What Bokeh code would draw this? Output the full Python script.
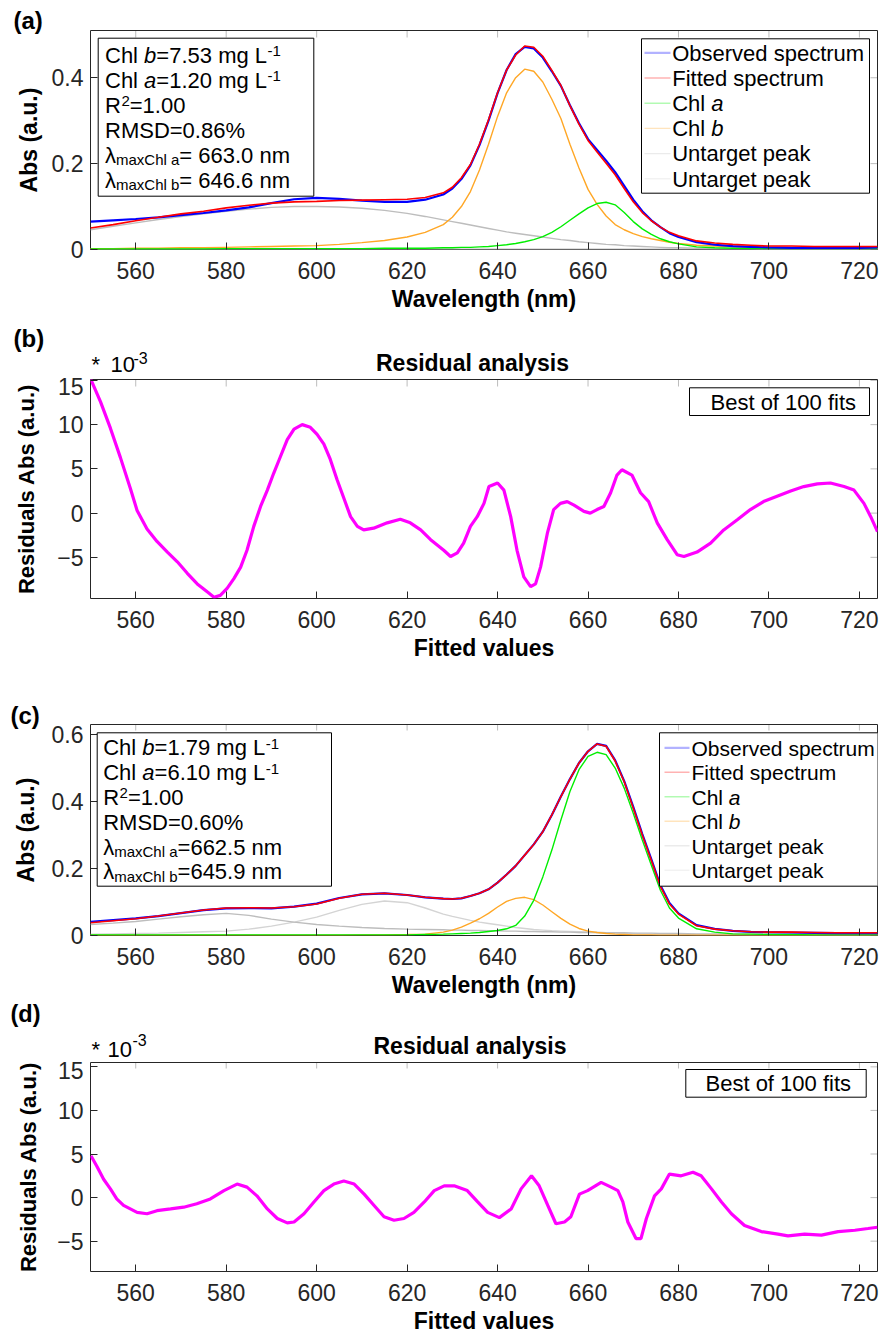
from bokeh.plotting import figure
from bokeh.models import Range1d, FixedTicker, Label, BoxAnnotation, PolyAnnotation
from bokeh.layouts import column
from bokeh.embed import file_html
from bokeh.resources import INLINE

FONT = "Liberation Sans"
AXC = "#262626"

# ---------------- data ----------------
wavelength = [550, 555, 560, 565, 570, 575, 580, 585, 590, 595, 600, 605, 610, 615, 620,
              624, 628,
              630, 632, 634, 636, 638, 640, 642, 644, 646, 648, 650, 652, 654, 656, 658, 660,
              662, 664, 666, 668, 670, 672, 674, 676, 678, 680,
              684, 688, 692, 696, 700,
              705, 710, 715, 720, 724]

# panel (a)
a_observed = [0.065, 0.068, 0.071, 0.075, 0.080, 0.085, 0.091, 0.098, 0.108, 0.117, 0.120, 0.118, 0.114, 0.111, 0.111,
              0.116, 0.128,
              0.142, 0.164, 0.196, 0.243, 0.300, 0.364, 0.418, 0.455, 0.472, 0.468, 0.447, 0.415, 0.381, 0.336, 0.294, 0.257,
              0.232, 0.207, 0.180, 0.148, 0.116, 0.089, 0.068, 0.052, 0.038, 0.029,
              0.017, 0.011, 0.008, 0.006, 0.005,
              0.004, 0.004, 0.004, 0.004, 0.005]
a_fitted = [0.050, 0.058, 0.067, 0.075, 0.083, 0.089, 0.097, 0.103, 0.108, 0.111, 0.112, 0.114, 0.115, 0.116, 0.117,
            0.121, 0.132,
            0.145, 0.167, 0.198, 0.245, 0.302, 0.365, 0.418, 0.453, 0.474, 0.471, 0.450, 0.417, 0.382, 0.335, 0.292, 0.254,
            0.227, 0.201, 0.174, 0.142, 0.111, 0.086, 0.067, 0.052, 0.040, 0.032,
            0.020, 0.015, 0.012, 0.010, 0.008,
            0.008, 0.007, 0.007, 0.007, 0.007]
a_chl_a = [0.001, 0.001, 0.001, 0.001, 0.001, 0.001, 0.002, 0.002, 0.002, 0.002, 0.002, 0.002, 0.002, 0.003, 0.003,
           0.003, 0.004,
           0.004, 0.005, 0.005, 0.006, 0.007, 0.009, 0.011, 0.014, 0.018, 0.023, 0.030, 0.040, 0.053, 0.068, 0.083, 0.097,
           0.107, 0.110, 0.104, 0.086, 0.065, 0.048, 0.035, 0.025, 0.018, 0.013,
           0.006, 0.004, 0.003, 0.002, 0.002,
           0.002, 0.002, 0.002, 0.002, 0.002]
a_chl_b = [0.002, 0.002, 0.003, 0.003, 0.004, 0.004, 0.005, 0.006, 0.007, 0.008, 0.009, 0.012, 0.016, 0.021, 0.029,
           0.040, 0.058,
           0.075, 0.100, 0.135, 0.185, 0.245, 0.310, 0.365, 0.400, 0.420, 0.415, 0.390, 0.350, 0.305, 0.245, 0.190, 0.140,
           0.105, 0.078, 0.058, 0.046, 0.037, 0.030, 0.025, 0.021, 0.017, 0.014,
           0.010, 0.008, 0.006, 0.005, 0.004,
           0.004, 0.003, 0.003, 0.003, 0.003]
a_untarget1 = [0.046, 0.054, 0.062, 0.070, 0.077, 0.083, 0.089, 0.094, 0.098, 0.100, 0.100, 0.099, 0.096, 0.091, 0.084,
               0.077, 0.069,
               0.065, 0.061, 0.057, 0.053, 0.049, 0.045, 0.041, 0.038, 0.035, 0.032, 0.029, 0.026, 0.023, 0.021, 0.018, 0.016,
               0.014, 0.012, 0.011, 0.009, 0.008, 0.007, 0.006, 0.005, 0.004, 0.004,
               0.003, 0.002, 0.002, 0.002, 0.001,
               0.001, 0.001, 0.001, 0.001, 0.001]
a_untarget2 = [0.001, 0.001, 0.001, 0.001, 0.001, 0.001, 0.001, 0.001, 0.001, 0.001, 0.001, 0.001, 0.001, 0.001, 0.001,
               0.001, 0.001,
               0.001, 0.001, 0.001, 0.001, 0.001, 0.001, 0.001, 0.001, 0.001, 0.001, 0.001, 0.001, 0.001, 0.001, 0.001, 0.001,
               0.001, 0.001, 0.001, 0.001, 0.001, 0.001, 0.001, 0.001, 0.001, 0.001,
               0.001, 0.001, 0.001, 0.001, 0.001,
               0.001, 0.001, 0.001, 0.001, 0.001]

# panel (c)
c_observed = [0.041, 0.046, 0.051, 0.058, 0.067, 0.076, 0.081, 0.082, 0.081, 0.086, 0.095, 0.112, 0.123, 0.126, 0.121,
              0.114, 0.110,
              0.109, 0.111, 0.118, 0.126, 0.138, 0.158, 0.182, 0.208, 0.240, 0.272, 0.310, 0.360, 0.415, 0.467, 0.515, 0.550,
              0.572, 0.566, 0.523, 0.461, 0.384, 0.303, 0.227, 0.150, 0.097, 0.066,
              0.031, 0.020, 0.014, 0.011, 0.010,
              0.009, 0.008, 0.007, 0.007, 0.007]
c_fitted = [0.038, 0.044, 0.050, 0.058, 0.067, 0.076, 0.082, 0.083, 0.082, 0.086, 0.094, 0.111, 0.123, 0.126, 0.121,
            0.114, 0.110,
            0.109, 0.111, 0.118, 0.126, 0.138, 0.158, 0.182, 0.208, 0.240, 0.272, 0.310, 0.360, 0.415, 0.467, 0.515, 0.550,
            0.572, 0.565, 0.521, 0.459, 0.381, 0.300, 0.224, 0.147, 0.094, 0.064,
            0.029, 0.019, 0.014, 0.011, 0.010,
            0.010, 0.009, 0.008, 0.008, 0.008]
c_chl_a = [0.002, 0.002, 0.002, 0.002, 0.002, 0.002, 0.002, 0.002, 0.002, 0.002, 0.002, 0.002, 0.002, 0.002, 0.002,
           0.003, 0.004,
           0.005, 0.006, 0.007, 0.009, 0.012, 0.015, 0.020, 0.030, 0.058, 0.105, 0.175, 0.255, 0.345, 0.430, 0.495, 0.535,
           0.547, 0.540, 0.500, 0.440, 0.365, 0.285, 0.210, 0.135, 0.082, 0.052,
           0.020, 0.010, 0.005, 0.004, 0.003,
           0.003, 0.002, 0.002, 0.002, 0.002]
c_chl_b = [0.001, 0.001, 0.001, 0.001, 0.001, 0.001, 0.001, 0.001, 0.001, 0.001, 0.001, 0.001, 0.002, 0.002, 0.003,
           0.004, 0.010,
           0.016, 0.025, 0.037, 0.050, 0.066, 0.085, 0.102, 0.111, 0.114, 0.107, 0.091, 0.071, 0.051, 0.034, 0.021, 0.013,
           0.009, 0.006, 0.004, 0.003, 0.002, 0.002, 0.002, 0.001, 0.001, 0.001,
           0.001, 0.001, 0.001, 0.001, 0.001,
           0.001, 0.001, 0.001, 0.001, 0.001]
c_untarget1 = [0.033, 0.037, 0.042, 0.049, 0.056, 0.062, 0.066, 0.060, 0.049, 0.040, 0.033, 0.028, 0.024, 0.021, 0.019,
               0.018, 0.017,
               0.016, 0.016, 0.015, 0.015, 0.014, 0.014, 0.013, 0.013, 0.012, 0.012, 0.011, 0.011, 0.010, 0.010, 0.009, 0.009,
               0.009, 0.008, 0.008, 0.008, 0.007, 0.007, 0.007, 0.006, 0.006, 0.006,
               0.005, 0.005, 0.005, 0.004, 0.004,
               0.004, 0.004, 0.003, 0.003, 0.003]
c_untarget2 = [0.004, 0.005, 0.006, 0.007, 0.009, 0.011, 0.013, 0.019, 0.028, 0.040, 0.055, 0.075, 0.093, 0.103, 0.098,
               0.082, 0.064,
               0.057, 0.051, 0.045, 0.040, 0.036, 0.032, 0.028, 0.024, 0.021, 0.018, 0.016, 0.014, 0.013, 0.012, 0.011, 0.010,
               0.009, 0.008, 0.007, 0.006, 0.006, 0.005, 0.005, 0.004, 0.004, 0.004,
               0.003, 0.003, 0.003, 0.002, 0.002,
               0.002, 0.002, 0.002, 0.002, 0.002]

# residuals (x 10^-3), panel (b)
res_b_points = [
    (550.0, 15.2), (552.2, 12.6), (554.4, 9.6), (556.6, 6.3), (558.8, 2.8), (560.3, 0.3), (562.5, -1.8),
    (564.7, -3.2), (567.0, -4.4), (569.2, -5.5), (571.4, -6.8), (573.6, -8.0), (575.8, -8.9), (577.3, -9.5),
    (578.7, -9.3), (580.2, -8.5), (581.7, -7.4), (583.2, -6.1), (584.6, -4.2), (586.1, -1.5), (587.6, 0.75),
    (589.1, 2.6), (590.5, 4.5), (592.0, 6.4), (593.5, 8.3), (595.0, 9.5), (596.8, 10.0), (598.6, 9.7),
    (600.1, 8.9), (601.6, 7.8), (603.0, 6.1), (604.5, 3.8), (606.0, 1.7), (607.5, -0.4), (609.0, -1.5),
    (610.4, -1.9), (612.6, -1.7), (615.6, -1.1), (618.5, -0.7), (620.7, -1.1), (623.0, -1.9), (625.2, -3.0),
    (628.1, -4.2), (629.6, -4.9), (631.1, -4.5), (632.5, -3.4), (634.0, -1.5), (635.5, -0.4), (637.0, 1.1),
    (638.1, 3.0), (640.0, 3.4), (641.4, 2.6), (642.9, -0.4), (644.3, -4.2), (645.8, -7.2), (647.3, -8.3),
    (648.4, -8.0), (649.5, -6.1), (651.0, -2.3), (652.4, 0.4), (653.9, 1.1), (655.4, 1.3), (656.9, 0.9),
    (659.1, 0.2), (660.5, 0.0), (662.0, 0.4), (663.5, 0.75), (665.0, 2.3), (666.4, 4.3), (667.5, 4.9),
    (669.7, 4.3), (671.6, 2.3), (673.4, 1.3), (675.3, -1.1), (677.5, -3.0), (679.7, -4.7), (681.2, -4.9),
    (684.1, -4.4), (687.1, -3.4), (690.0, -1.9), (693.0, -0.75), (695.9, 0.4), (698.8, 1.3), (701.8, 1.9),
    (704.8, 2.5), (707.7, 3.0), (710.7, 3.3), (713.6, 3.4), (716.6, 3.0), (718.8, 2.6), (721.0, 1.1),
    (722.5, -0.4), (724.0, -2.1)]
# residuals (x 10^-3), panel (d)
res_d_points = [
    (550.1, 4.8), (551.4, 3.6), (552.9, 2.1), (554.4, 1.0), (555.8, -0.15), (557.3, -0.9), (558.8, -1.3),
    (560.3, -1.7), (562.5, -1.85), (564.7, -1.5), (567.7, -1.3), (570.6, -1.1), (573.5, -0.7), (576.5, -0.15),
    (579.5, 0.8), (582.4, 1.55), (584.6, 1.2), (586.8, 0.2), (589.1, -1.3), (591.3, -2.4), (593.5, -2.9),
    (595.0, -2.8), (597.2, -1.85), (599.4, -0.5), (601.6, 0.8), (603.8, 1.55), (606.0, 1.9), (608.3, 1.55),
    (610.5, 0.4), (612.7, -0.9), (614.9, -2.2), (617.1, -2.6), (619.3, -2.4), (621.5, -1.7), (623.8, -0.5),
    (626.0, 0.8), (628.2, 1.35), (630.4, 1.35), (633.3, 0.8), (635.6, -0.5), (637.8, -1.7), (640.4, -2.3),
    (643.0, -1.3), (645.2, 1.0), (647.5, 2.5), (649.2, 1.35), (651.1, -0.9), (652.9, -3.0), (654.8, -2.8),
    (656.2, -2.2), (658.1, 0.4), (659.9, 0.8), (662.9, 1.75), (665.1, 1.2), (666.6, 0.8), (667.7, -0.5),
    (668.8, -2.8), (670.6, -4.7), (671.7, -4.7), (672.9, -2.4), (674.7, 0.2), (676.2, 1.0), (678.0, 2.7),
    (680.6, 2.5), (683.2, 2.9), (685.0, 2.5), (687.3, 1.0), (689.5, -0.5), (691.7, -1.85), (694.6, -3.2),
    (698.3, -3.9), (702.0, -4.2), (704.2, -4.4), (707.9, -4.2), (711.6, -4.3), (715.3, -3.9), (719.0, -3.75),
    (721.9, -3.55), (724.0, -3.4)]
res_b_wl = [w for w, _ in res_b_points]
res_b = [r for _, r in res_b_points]
res_d_wl = [w for w, _ in res_d_points]
res_d = [r for _, r in res_d_points]

x_ticks = [560, 580, 600, 620, 640, 660, 680, 700, 720]
abs_ticks_a = [0, 0.2, 0.4]
abs_ticks_c = [0, 0.2, 0.4, 0.6]
res_ticks = [-5, 0, 5, 10, 15]

series_names = ["Observed spectrum", "Fitted spectrum", "Chl a", "Chl b", "Untarget peak", "Untarget peak"]
series_colors = ["#0000FF", "#FF0000", "#00EE00", "#FFA726", "#BDBDBD", "#D4D4D4"]
series_widths = [2.2, 1.6, 1.4, 1.4, 1.4, 1.4]

# ---------------- helpers ----------------
CW = {' ': 278, '%': 889, '*': 389, '-': 333, '.': 278, '=': 584, 'B': 667, 'C': 722, 'D': 722,
      'F': 611, 'L': 556, 'M': 833, 'O': 778, 'R': 722, 'S': 667, 'U': 722, 'a': 556, 'b': 556,
      'c': 500, 'd': 556, 'e': 556, 'f': 278, 'g': 556, 'h': 556, 'i': 222, 'k': 500, 'l': 222,
      'm': 833, 'n': 556, 'o': 556, 'p': 556, 'r': 333, 's': 500, 't': 278, 'u': 556, 'v': 500,
      'x': 500, '\u03bb': 500}
SHIFT = 0.3465
BOX_W = 787  # width in px of the axes box


def text_w(s, size):
    return sum(CW.get(c, 556) for c in s) * size / 1000.0


def add_text(p, g, txt, gx, gy, size, style="normal", color="black", align="left", side="center",
             xref=None):
    mid = gy - SHIFT * size
    ft = g["top0"] + g["top"]
    fb = ft + g["fh"]
    yv = (ft - mid) if side == "above" else (fb - mid)
    xr = g["left"] if xref is None else xref
    lab = Label(x=gx - xr, y=yv, x_units="screen", y_units="screen", text=txt,
                text_font=FONT, text_font_size=f"{size}px", text_font_style=style,
                text_color=color, text_align=align, text_baseline="alphabetic")
    if side == "center":
        p.add_layout(lab)
    else:
        p.add_layout(lab, side)


def add_box(p, g, gx0, gy0, gx1, gy1):
    fb = g["top0"] + g["top"] + g["fh"]
    p.add_layout(BoxAnnotation(left=gx0 - g["left"], right=gx1 - g["left"], top=fb - gy0, bottom=fb - gy1,
                               left_units="screen", right_units="screen", top_units="screen",
                               bottom_units="screen", fill_color="white", fill_alpha=1.0,
                               line_color="black", line_width=1, line_alpha=1.0))


def add_sample(p, g, gx0, gx1, gy, color, width):
    fb = g["top0"] + g["top"] + g["fh"]
    p.add_layout(PolyAnnotation(xs=[gx0 - g["left"], gx1 - g["left"]], ys=[fb - gy, fb - gy],
                                xs_units="screen", ys_units="screen", line_color=color,
                                line_width=width, fill_alpha=0.0))


def add_rich(p, g, gx, gy, parts, size=22, small=15):
    x = gx
    for txt, kind in parts:
        if kind == "i":
            add_text(p, g, txt, x, gy, size, "italic")
            x += text_w(txt, size)
        elif kind == "sup":
            add_text(p, g, txt, x + 0.5, gy - 6.5, small)
            x += text_w(txt, small) + 0.5
        elif kind == "sub":
            add_text(p, g, txt, x, gy + 2, small)
            x += text_w(txt, small)
        else:
            add_text(p, g, txt, x, gy, size)
            x += text_w(txt, size)


def add_legend(p, g, box, row0, dy, sx0, sx1, tx, size=22):
    add_box(p, g, *box)
    for k, (lab, col, w) in enumerate(zip(series_names, series_colors, series_widths)):
        cy = row0 + k * dy
        add_sample(p, g, sx0, sx1, cy, col, w)
        base = cy + 0.358 * size
        if lab.startswith("Chl "):
            add_text(p, g, "Chl ", tx, base, size)
            add_text(p, g, lab[4:], tx + text_w("Chl ", size), base, size, "italic")
        else:
            add_text(p, g, lab, tx, base, size)


def make_header(top0, h):
    p = figure(width=894, height=h, x_range=Range1d(0, 894), y_range=Range1d(0, h),
               output_backend="svg", toolbar_location=None, min_border=0,
               x_axis_type=None, y_axis_type=None)
    p.title.visible = False
    p.outline_line_color = None
    p.background_fill_color = "white"
    p.border_fill_color = "white"
    # the column aligns every frame to the panels' frame (left edge at x = 90)
    return p, dict(top0=top0, top=0, fh=h, left=90)


def make_panel(g, yr, yticks, ylabel, xlabel, ylab_standoff, overrides=None, ylab_size=23):
    p = figure(width=894, height=g["height"], x_range=Range1d(550, 724), y_range=Range1d(*yr),
               output_backend="svg", toolbar_location=None,
               min_border_left=g["left"], min_border_right=g["right"], min_border_top=g["top"],
               min_border_bottom=g["height"] - g["top"] - g["fh"])
    p.title.visible = False
    p.xgrid.visible = False
    p.ygrid.visible = False
    p.background_fill_color = "white"
    p.border_fill_color = "white"
    p.outline_line_color = AXC
    p.outline_line_width = 1
    xa = p.xaxis[0]
    ya = p.yaxis[0]
    xa.ticker = FixedTicker(ticks=x_ticks)
    ya.ticker = FixedTicker(ticks=yticks)
    for ax in (xa, ya):
        ax.major_tick_in = 7
        ax.major_tick_out = 0
        ax.minor_tick_line_color = None
        ax.axis_line_color = None
        ax.major_tick_line_color = AXC
        ax.major_label_text_font = FONT
        ax.major_label_text_font_size = "23px"
        ax.major_label_text_color = AXC
        ax.axis_label_text_font = FONT
        ax.axis_label_text_font_size = "23px"
        ax.axis_label_text_font_style = "bold"
        ax.axis_label_text_color = "black"
    ya.axis_label_text_font_size = f"{ylab_size}px"
    xa.axis_label = xlabel
    ya.axis_label = ylabel
    xa.major_label_standoff = 12
    xa.axis_label_standoff = 4
    ya.major_label_standoff = 7
    ya.axis_label_standoff = int(ylab_standoff)
    if overrides:
        ya.major_label_overrides = overrides
    # mirrored inward ticks on the top and right edges of the box
    fh = g["fh"]
    for t in x_ticks:
        p.add_layout(PolyAnnotation(xs=[t, t], ys=[fh, fh - 7], xs_units="data", ys_units="screen",
                                    line_color=AXC, line_width=1, fill_alpha=0.0))
    for t in yticks:
        p.add_layout(PolyAnnotation(xs=[BOX_W, BOX_W - 7], ys=[t, t], xs_units="screen", ys_units="data",
                                    line_color=AXC, line_width=1, fill_alpha=0.0))
    return p


def draw_spectra(p, obs, fit, ca, cb, u1, u2):
    comps = [u2, u1, cb, ca]
    cols = [series_colors[5], series_colors[4], series_colors[3], series_colors[2]]
    for ys, c in zip(comps, cols):
        p.line(wavelength, ys, line_color=c, line_width=1.4)
    p.line(wavelength, obs, line_color=series_colors[0], line_width=2.2)
    p.line(wavelength, fit, line_color=series_colors[1], line_width=1.6)


G_a = dict(top0=0, height=318, left=90, right=17, top=30, fh=219)
G_b = dict(top0=377, height=313, left=90, right=17, top=2, fh=219)
G_c = dict(top0=690, height=310, left=90, right=17, top=34, fh=212)
G_d = dict(top0=1061, height=275, left=90, right=17, top=1, fh=210)

# ---------- (a) ----------
pa = make_panel(G_a, (0, 0.51), abs_ticks_a, "Abs (a.u.)", "Wavelength (nm)", 7,
                overrides={0: "0", 0.2: "0.2", 0.4: "0.4"})
draw_spectra(pa, a_observed, a_fitted, a_chl_a, a_chl_b, a_untarget1, a_untarget2)
add_box(pa, G_a, 97.7, 37.7, 313.3, 195.7)
lines_a = [
    [("Chl ", "n"), ("b", "i"), ("=7.53 mg L", "n"), ("-1", "sup")],
    [("Chl ", "n"), ("a", "i"), ("=1.20 mg L", "n"), ("-1", "sup")],
    [("R", "n"), ("2", "sup"), ("=1.00", "n")],
    [("RMSD=0.86%", "n")],
    [("\u03bb", "n"), ("maxChl a", "sub"), ("= 663.0 nm", "n")],
    [("\u03bb", "n"), ("maxChl b", "sub"), ("= 646.6 nm", "n")],
]
for k, parts in enumerate(lines_a):
    add_rich(pa, G_a, 104.5, 62.5 + k * 24.95, parts)
add_legend(pa, G_a, (641, 38.3, 869, 192.7), 52.3, 25.2, 644, 670, 671.7)
add_text(pa, G_a, "(a)", 13, 28.5, 24, "bold", side="above")

# ---------- header of (b) ----------
hb, G_hb = make_header(318, 59)
add_text(hb, G_hb, "(b)", 13, 346.7, 24, "bold", side="left", xref=59)
add_text(hb, G_hb, "*", 91, 372, 22)
add_text(hb, G_hb, "10", 110, 372, 22)
add_text(hb, G_hb, "-3", 133, 363, 16)
add_text(hb, G_hb, "Residual analysis", 472, 370, 23, "bold", align="center")

# ---------- (b) ----------
pb = make_panel(G_b, (-9.65, 15.1), res_ticks, "Residuals Abs (a.u.)", "Fitted values", 15, ylab_size=22)
pb.line(res_b_wl, res_b, line_color="#FF00FF", line_width=3.2)
add_box(pb, G_b, 689, 387.3, 869, 415)
add_text(pb, G_b, "Best of 100 fits", 710, 409.6, 22)

# ---------- (c) ----------
pc = make_panel(G_c, (0, 0.63), abs_ticks_c, "Abs (a.u.)", "Wavelength (nm)", 10,
                overrides={0: "0", 0.2: "0.2", 0.4: "0.4", 0.6: "0.6"})
draw_spectra(pc, c_observed, c_fitted, c_chl_a, c_chl_b, c_untarget1, c_untarget2)
add_box(pc, G_c, 96.7, 733.3, 331, 886.7)
lines_c = [
    [("Chl ", "n"), ("b", "i"), ("=1.79 mg L", "n"), ("-1", "sup")],
    [("Chl ", "n"), ("a", "i"), ("=6.10 mg L", "n"), ("-1", "sup")],
    [("R", "n"), ("2", "sup"), ("=1.00", "n")],
    [("RMSD=0.60%", "n")],
    [("\u03bb", "n"), ("maxChl a", "sub"), ("=662.5 nm", "n")],
    [("\u03bb", "n"), ("maxChl b", "sub"), ("=645.9 nm", "n")],
]
for k, parts in enumerate(lines_c):
    add_rich(pc, G_c, 102.7, 756 + k * 24.8, parts)
add_legend(pc, G_c, (659, 733.3, 900, 886.7), 748.3, 24.5, 664, 689, 691, size=21)
add_text(pc, G_c, "(c)", 10, 723.3, 24, "bold", side="above")

# ---------- header of (d) ----------
hd, G_hd = make_header(1000, 61)
add_text(hd, G_hd, "(d)", 10, 1021.5, 23.5, "bold", side="left", xref=60)
add_text(hd, G_hd, "*", 91, 1056.2, 22)
add_text(hd, G_hd, "10", 107, 1056.2, 22)
add_text(hd, G_hd, "-3", 132, 1045.5, 16)
add_text(hd, G_hd, "Residual analysis", 469.5, 1053.3, 23, "bold", align="center")

# ---------- (d) ----------
pd_ = make_panel(G_d, (-8.48, 15.5), res_ticks, "Residuals Abs (a.u.)", "Fitted values", 13, ylab_size=22)
pd_.line(res_d_wl, res_d, line_color="#FF00FF", line_width=3.2)
add_box(pd_, G_d, 685.3, 1070, 865.7, 1097.7)
add_text(pd_, G_d, "Best of 100 fits", 705, 1091.9, 22)

layout = column(pa, hb, pb, pc, hd, pd_)
open("out.html", "w").write(file_html(layout, INLINE))
